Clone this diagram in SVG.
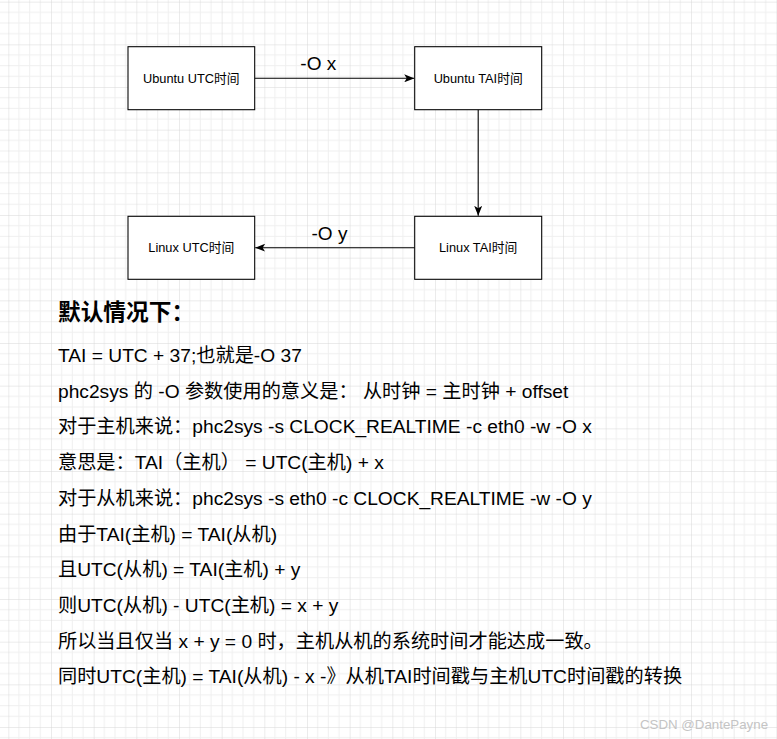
<svg xmlns="http://www.w3.org/2000/svg" width="777" height="739" viewBox="0 0 777 739">
  <style>
    .box { fill: #fff; stroke: #000; stroke-width: 1.07; }
    .lbl { font-family: "Liberation Sans", "Noto Sans CJK SC", sans-serif; font-size: 12.8px; fill: #000; text-anchor: middle; }
    .edge { fill: none; stroke: #000; stroke-width: 1.07; }
    .elbl { font-family: "Liberation Sans", "Noto Sans CJK SC", sans-serif; font-size: 19px; fill: #000; text-anchor: middle; }
    .body { font-family: "Liberation Sans", "Noto Sans CJK SC", sans-serif; font-size: 19.2px; fill: #000; }
    .head { font-family: "Liberation Sans", "Noto Sans CJK SC", sans-serif; font-size: 22.7px; font-weight: bold; fill: #000; }
    .wm { font-family: "Liberation Sans", "Noto Sans CJK SC", sans-serif; font-size: 13.3px; fill: #c4c4c4; }
  </style>
  <defs>
    <pattern id="grid" patternUnits="userSpaceOnUse" x="8.33" y="1.67" width="42.667" height="42.667">
      <path d="M10.667,0 V42.667 M21.333,0 V42.667 M32,0 V42.667 M0,10.667 H42.667 M0,21.333 H42.667 M0,32 H42.667" stroke="#efefef" stroke-width="1" fill="none"/>
      <path d="M0,0 V42.667 M0,0 H42.667" stroke="#d8d8d8" stroke-width="1" fill="none"/>
    </pattern>
    <marker id="arr" viewBox="0 0 10 8" refX="10" refY="4" markerWidth="10" markerHeight="8" markerUnits="userSpaceOnUse" orient="auto">
      <path d="M0,0 L10,4 L0,8 L2.5,4 Z" fill="#000"/>
    </marker>
  </defs>
  <rect width="777" height="739" fill="#fff"/>
  <rect width="777" height="739" fill="url(#grid)"/>

  <g id="connectors">
    <line class="edge" x1="254.7" y1="78.3" x2="414.2" y2="78.3" marker-end="url(#arr)"/>
    <line class="edge" x1="478.2" y1="109.7" x2="478.2" y2="215.8" marker-end="url(#arr)"/>
    <line class="edge" x1="414.7" y1="247.7" x2="255.2" y2="247.7" marker-end="url(#arr)"/>
    <text class="elbl" x="318.3" y="69.5">-O x</text>
    <text class="elbl" x="329.5" y="239.5">-O y</text>
  </g>

  <g id="ubuntu-utc">
    <rect class="box" x="128" y="46.7" width="126.7" height="63"/>
    <text class="lbl" x="191.3" y="82.6">Ubuntu UTC时间</text>
  </g>
  <g id="ubuntu-tai">
    <rect class="box" x="414.7" y="46.7" width="127" height="63"/>
    <text class="lbl" x="478.2" y="82.6">Ubuntu TAI时间</text>
  </g>
  <g id="linux-utc">
    <rect class="box" x="128" y="216.3" width="126.7" height="63"/>
    <text class="lbl" x="191.3" y="252.2">Linux UTC时间</text>
  </g>
  <g id="linux-tai">
    <rect class="box" x="414.7" y="216.3" width="127" height="63"/>
    <text class="lbl" x="478.2" y="252.2">Linux TAI时间</text>
  </g>

  <g id="notes">
    <text class="head" x="58" y="319.5">默认情况下：</text>
    <text class="body" x="58" y="362">TAI = UTC + 37;也就是-O 37</text>
    <text class="body" x="58" y="397.7">phc2sys 的 -O 参数使用的意义是： 从时钟 = 主时钟 + offset</text>
    <text class="body" x="58" y="433.4">对于主机来说：phc2sys -s CLOCK_REALTIME -c eth0 -w -O x</text>
    <text class="body" x="58" y="469.1">意思是：TAI（主机） = UTC(主机) + x</text>
    <text class="body" x="58" y="504.8">对于从机来说：phc2sys -s eth0 -c CLOCK_REALTIME -w -O y</text>
    <text class="body" x="58" y="540.5">由于TAI(主机) = TAI(从机)</text>
    <text class="body" x="58" y="576.2">且UTC(从机) = TAI(主机) + y</text>
    <text class="body" x="58" y="611.9">则UTC(从机) - UTC(主机) = x + y</text>
    <text class="body" x="58" y="647.6">所以当且仅当 x + y = 0 时，主机从机的系统时间才能达成一致。</text>
    <text class="body" x="58" y="683.3">同时UTC(主机) = TAI(从机) - x -》从机TAI时间戳与主机UTC时间戳的转换</text>
  </g>

  <text class="wm" x="640" y="729">CSDN @DantePayne</text>
</svg>
